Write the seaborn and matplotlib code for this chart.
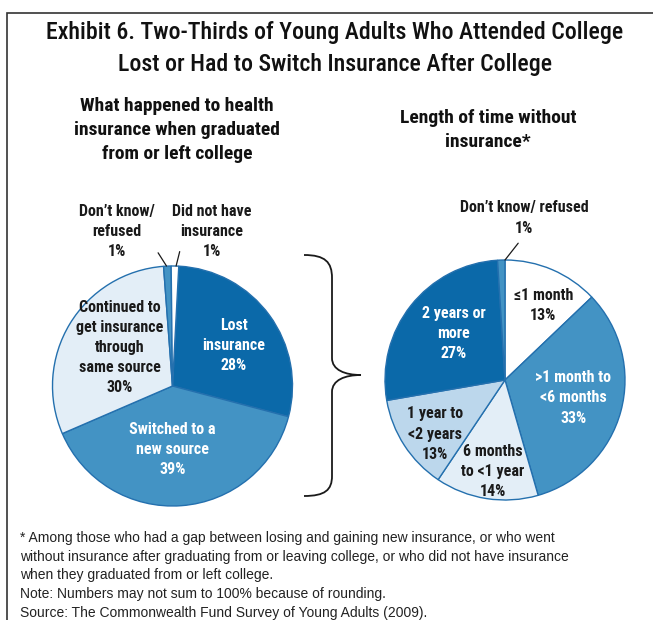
import seaborn as sns
import matplotlib.pyplot as plt
from matplotlib.path import Path
from matplotlib.patches import PathPatch
import matplotlib.transforms as mtransforms

# left pie: what happened to insurance
left_labels = ["Lost\ninsurance\n28%", "Switched to a\nnew source\n39%",
               "Continued to\nget insurance\nthrough\nsame source\n30%",
               "Don\u2019t know/\nrefused\n1%", "Did not have\ninsurance\n1%"]
left_values = [28, 39, 30, 1, 1]
left_colors = ["#0b69a9", "#4393c4", "#e3eef7", "#4393c4", "#ffffff"]
left_text_colors = ["white", "white", "#1a1a1a", "#1a1a1a", "#1a1a1a"]

# right pie: length of time without insurance
right_labels = ["\u22641 month\n13%", ">1 month to\n<6 months\n33%",
                "6 months\nto <1 year\n14%", "1 year to\n<2 years\n13%",
                "2 years or\nmore\n27%", "Don\u2019t know/ refused\n1%"]
right_values = [13, 33, 14, 13, 27, 1]
right_colors = ["#ffffff", "#4393c4", "#e3eef7", "#bcd7ec", "#0b69a9", "#4393c4"]
right_text_colors = ["#1a1a1a", "white", "#1a1a1a", "#1a1a1a", "white", "#1a1a1a"]

# label offsets (pie radius units)
left_pos = [(0.51, 0.34), (0.0, -0.53), (-0.44, 0.32), (-0.46, 1.29), (0.33, 1.29)]
right_pos = [(0.32, 0.62), (0.57, -0.15), (-0.10, -0.76), (-0.58, -0.45),
             (-0.43, 0.39), (0.16, 1.35)]

sns.set_theme(style="white")
plt.rcParams["font.family"] = ["Roboto Condensed", "DejaVu Sans"]

W, H = 654, 620
fig = plt.figure(figsize=(W / 100, H / 100), dpi=100)


def box(cx, cy, r):
    return [(cx - r) / W, 1 - (cy + r) / H, 2 * r / W, 2 * r / H]


def draw_pie(ax, values, colors, labels, pos, tcolors, start):
    ax.pie(values, colors=colors, startangle=start, counterclock=False,
           wedgeprops=dict(edgecolor="#2470ae", linewidth=1.0))
    ax.set_xlim(-1, 1)
    ax.set_ylim(-1, 1)
    ax.set_aspect("equal")
    for lab, (x, y), c in zip(labels, pos, tcolors):
        ax.text(x, y, lab, ha="center", va="center", color=c, fontsize=11.5,
                fontweight="bold", linespacing=1.42, clip_on=False)


axl = fig.add_axes(box(172.5, 386, 120))
draw_pie(axl, left_values, left_colors, left_labels, left_pos, left_text_colors, 87)
axl.plot([-0.12, -0.05], [1.11, 1.0], color="#1a1a1a", lw=0.9, clip_on=False)
axl.plot([0.06, 0.03], [1.12, 1.0], color="#1a1a1a", lw=0.9, clip_on=False)

axr = fig.add_axes(box(505, 380, 120))
draw_pie(axr, right_values, right_colors, right_labels, right_pos, right_text_colors, 90)
axr.plot([0.11, 0.0], [1.14, 1.0], color="#1a1a1a", lw=0.9, clip_on=False)

# title and subtitles
fig.text(0.512, 1 - 33 / H, "Exhibit 6. Two-Thirds of Young Adults Who Attended College",
         ha="center", va="center", fontsize=17.2, fontweight=500, color="#111111")
fig.text(0.512, 1 - 65 / H, "Lost or Had to Switch Insurance After College",
         ha="center", va="center", fontsize=17.2, fontweight=500, color="#111111")
fig.text(177 / W, 1 - 130 / H, "What happened to health\ninsurance when graduated\nfrom or left college",
         ha="center", va="center", fontsize=14, fontweight="bold", linespacing=1.45, color="#111111")
fig.text(488 / W, 1 - 130 / H, "Length of time without\ninsurance*",
         ha="center", va="center", fontsize=14, fontweight="bold", linespacing=1.45, color="#111111")

notes = ("* Among those who had a gap between losing and gaining new insurance, or who went\n"
         "without insurance after graduating from or leaving college, or who did not have insurance\n"
         "when they graduated from or left college.\n"
         "Note: Numbers may not sum to 100% because of rounding.\n"
         "Source: The Commonwealth Fund Survey of Young Adults (2009).")
fig.text(20 / W, 1 - 531 / H, notes, ha="left", va="top", fontsize=10,
         family=["Liberation Sans", "DejaVu Sans"], linespacing=1.43, color="#222222")

# frame lines (pixel coordinates, y down)
px = mtransforms.Affine2D().scale(1 / W, -1 / H).translate(0, 1) + fig.transFigure
frame = Path([(653, 13), (7, 13), (7, 620)], [Path.MOVETO, Path.LINETO, Path.LINETO])
fig.patches.append(PathPatch(frame, transform=px, fill=False, edgecolor="#333333", lw=1.2))

# curly brace between the pies
verts = [(304, 255), (325, 255), (332, 262), (332, 278),
         (332, 358),
         (332, 370), (345, 375), (361, 375),
         (345, 375), (332, 380), (332, 392),
         (332, 476),
         (332, 490), (325, 496), (304, 496)]
codes = [Path.MOVETO, Path.CURVE4, Path.CURVE4, Path.CURVE4,
         Path.LINETO,
         Path.CURVE4, Path.CURVE4, Path.CURVE4,
         Path.CURVE4, Path.CURVE4, Path.CURVE4,
         Path.LINETO,
         Path.CURVE4, Path.CURVE4, Path.CURVE4]
fig.patches.append(PathPatch(Path(verts, codes), transform=px, fill=False,
                             edgecolor="#1a1a1a", lw=1.3))

plt.savefig("out.png", dpi=100)
